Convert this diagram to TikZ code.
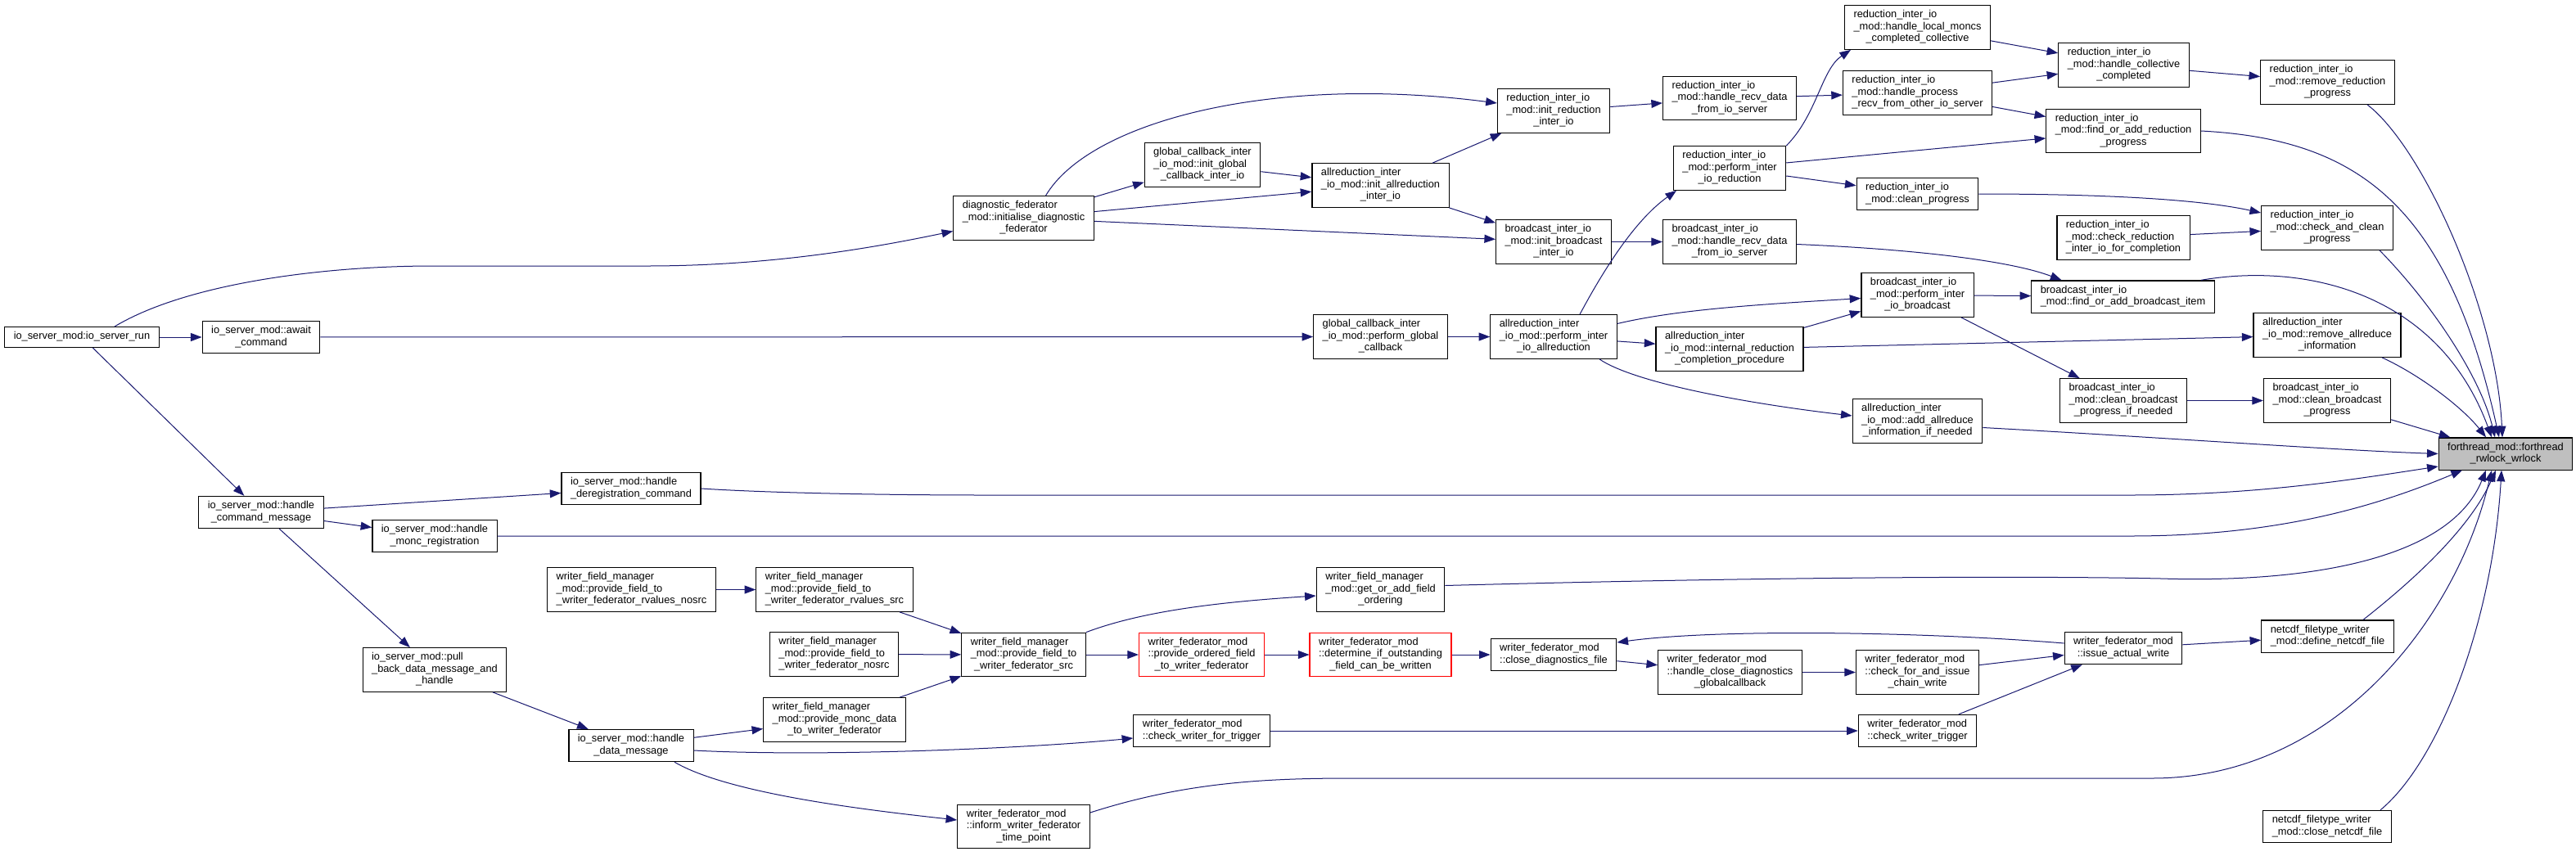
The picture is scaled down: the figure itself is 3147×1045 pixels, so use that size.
\documentclass[tikz,border=0pt]{standalone}
\usepackage{fontspec}
\setmainfont{Liberation Sans}
\usepackage{xcolor}
\usetikzlibrary{arrows.meta}
\definecolor{edgeblue}{RGB}{25,25,112}
\definecolor{selgray}{RGB}{191,191,191}
% label: all lines left aligned, last line centred
\newcommand{\lbl}[2]{\begin{tabular}{@{}l@{}}#1\\\multicolumn{1}{@{}c@{}}{#2}\end{tabular}}

\begin{document}
\begin{tikzpicture}[
  x=0.5pt, y=-0.5pt,
  >={Triangle[length=6.8pt,width=5pt]},
  func/.style={draw=black, line width=0.6pt, fill=white, inner xsep=5.5pt,
    inner ysep=2.6pt, font=\fontsize{6.4pt}{7.2pt}\selectfont},
  funcred/.style={func, draw=red},
  funcsel/.style={func, fill=selgray},
  arrow/.style={->, draw=edgeblue, line width=0.5pt},
]
\fill[white] (0,0) rectangle (3147,1045);
\useasboundingbox (0,0) rectangle (3147,1045);

% ===== io server =====
\node[func] (run) at (100,412) {\strut io\_server\_mod:io\_server\_run};
\node[func] (await) at (319,412) {\lbl{io\_server\_mod::await}{\_command}};
\node[func] (cmdmsg) at (319,626) {\lbl{io\_server\_mod::handle}{\_command\_message}};
\node[func] (moncreg) at (531,655) {\lbl{io\_server\_mod::handle}{\_monc\_registration}};
\node[func] (pullback) at (531,818.5)
  {\lbl{io\_server\_mod::pull\\\_back\_data\_message\_and}{\_handle}};
\node[func] (dereg) at (771,597) {\lbl{io\_server\_mod::handle}{\_deregistration\_command}};
\node[func] (datamsg) at (771,911) {\lbl{io\_server\_mod::handle}{\_data\_message}};

% ===== writer field manager =====
\node[func] (rvnosrc) at (771.5,720.5)
  {\lbl{writer\_field\_manager\\\_mod::provide\_field\_to}{\_writer\_federator\_rvalues\_nosrc}};
\node[func] (rvsrc) at (1019.5,720.5)
  {\lbl{writer\_field\_manager\\\_mod::provide\_field\_to}{\_writer\_federator\_rvalues\_src}};
\node[func] (provnosrc) at (1019,799.5)
  {\lbl{writer\_field\_manager\\\_mod::provide\_field\_to}{\_writer\_federator\_nosrc}};
\node[func] (moncdata) at (1019.5,879.5)
  {\lbl{writer\_field\_manager\\\_mod::provide\_monc\_data}{\_to\_writer\_federator}};
\node[func] (wfmsrc) at (1250.5,800)
  {\lbl{writer\_field\_manager\\\_mod::provide\_field\_to}{\_writer\_federator\_src}};
\node[func] (getorder) at (1686.5,720.5)
  {\lbl{writer\_field\_manager\\\_mod::get\_or\_add\_field}{\_ordering}};

% ===== writer federator =====
\node[funcred] (provordered) at (1468,800)
  {\lbl{writer\_federator\_mod\\::provide\_ordered\_field}{\_to\_writer\_federator}};
\node[funcred] (determine) at (1686.5,800)
  {\lbl{writer\_federator\_mod\\::determine\_if\_outstanding}{\_field\_can\_be\_written}};
\node[func] (closediag) at (1898,800) {\lbl{writer\_federator\_mod}{::close\_diagnostics\_file}};
\node[func] (closediagcb) at (2113.5,821.5)
  {\lbl{writer\_federator\_mod\\::handle\_close\_diagnostics}{\_globalcallback}};
\node[func] (chainwrite) at (2342.5,821.5)
  {\lbl{writer\_federator\_mod\\::check\_for\_and\_issue}{\_chain\_write}};
\node[func] (chkwrtrig) at (1468,893) {\lbl{writer\_federator\_mod}{::check\_writer\_for\_trigger}};
\node[func] (trigger) at (2342.5,893) {\lbl{writer\_federator\_mod}{::check\_writer\_trigger}};
\node[func] (inform) at (1250.5,1010)
  {\lbl{writer\_federator\_mod\\::inform\_writer\_federator}{\_time\_point}};
\node[func] (issue) at (2594,792) {\lbl{writer\_federator\_mod}{::issue\_actual\_write}};
\node[func] (define) at (2843.5,777.5) {\lbl{netcdf\_filetype\_writer}{\_mod::define\_netcdf\_file}};
\node[func] (closenc) at (2843,1010) {\lbl{netcdf\_filetype\_writer}{\_mod::close\_netcdf\_file}};

% ===== inter io =====
\node[func] (diag) at (1250.5,266.5)
  {\lbl{diagnostic\_federator\\\_mod::initialise\_diagnostic}{\_federator}};
\node[func] (gcinit) at (1469,201.5)
  {\lbl{global\_callback\_inter\\\_io\_mod::init\_global}{\_callback\_inter\_io}};
\node[func] (arinit) at (1686.5,226.5)
  {\lbl{allreduction\_inter\\\_io\_mod::init\_allreduction}{\_inter\_io}};
\node[func] (gcperf) at (1686.5,411.5)
  {\lbl{global\_callback\_inter\\\_io\_mod::perform\_global}{\_callback}};
\node[func] (redinit) at (1898,135.5)
  {\lbl{reduction\_inter\_io\\\_mod::init\_reduction}{\_inter\_io}};
\node[func] (bcinit) at (1898,295.5)
  {\lbl{broadcast\_inter\_io\\\_mod::init\_broadcast}{\_inter\_io}};
\node[func] (arperf) at (1898,411.5)
  {\lbl{allreduction\_inter\\\_io\_mod::perform\_inter}{\_io\_allreduction}};
\node[func] (redrecv) at (2113,120)
  {\lbl{reduction\_inter\_io\\\_mod::handle\_recv\_data}{\_from\_io\_server}};
\node[func] (redperf) at (2113,205.5)
  {\lbl{reduction\_inter\_io\\\_mod::perform\_inter}{\_io\_reduction}};
\node[func] (bcrecv) at (2113,295.5)
  {\lbl{broadcast\_inter\_io\\\_mod::handle\_recv\_data}{\_from\_io\_server}};
\node[func] (arintproc) at (2113,426.5)
  {\lbl{allreduction\_inter\\\_io\_mod::internal\_reduction}{\_completion\_procedure}};
\node[func] (redlocal) at (2342.5,33.5)
  {\lbl{reduction\_inter\_io\\\_mod::handle\_local\_moncs}{\_completed\_collective}};
\node[func] (redproc) at (2342.5,113.5)
  {\lbl{reduction\_inter\_io\\\_mod::handle\_process}{\_recv\_from\_other\_io\_server}};
\node[func] (redclean) at (2342.5,237) {\lbl{reduction\_inter\_io}{\_mod::clean\_progress}};
\node[func] (bcperf) at (2342.5,360.5)
  {\lbl{broadcast\_inter\_io\\\_mod::perform\_inter}{\_io\_broadcast}};
\node[func] (aradd) at (2342.5,514.5)
  {\lbl{allreduction\_inter\\\_io\_mod::add\_allreduce}{\_information\_if\_needed}};
\node[func] (redcoll) at (2594.5,79.5)
  {\lbl{reduction\_inter\_io\\\_mod::handle\_collective}{\_completed}};
\node[func] (redfind) at (2594,160)
  {\lbl{reduction\_inter\_io\\\_mod::find\_or\_add\_reduction}{\_progress}};
\node[func] (redcheckcomp) at (2594,290.5)
  {\lbl{reduction\_inter\_io\\\_mod::check\_reduction}{\_inter\_io\_for\_completion}};
\node[func] (bcfind) at (2593.5,362.5)
  {\lbl{broadcast\_inter\_io}{\_mod::find\_or\_add\_broadcast\_item}};
\node[func] (bccleanif) at (2594,489.5)
  {\lbl{broadcast\_inter\_io\\\_mod::clean\_broadcast}{\_progress\_if\_needed}};
\node[func] (redremove) at (2843.5,100.5)
  {\lbl{reduction\_inter\_io\\\_mod::remove\_reduction}{\_progress}};
\node[func] (redcheckclean) at (2843,278.5)
  {\lbl{reduction\_inter\_io\\\_mod::check\_and\_clean}{\_progress}};
\node[func] (arremove) at (2843,409.5)
  {\lbl{allreduction\_inter\\\_io\_mod::remove\_allreduce}{\_information}};
\node[func] (bcclean) at (2843,489.5)
  {\lbl{broadcast\_inter\_io\\\_mod::clean\_broadcast}{\_progress}};

% ===== target =====
\node[funcsel] (fwl) at (3061,554.5) {\lbl{forthread\_mod::forthread}{\_rwlock\_wrlock}};

% ===== edges: io server =====
\draw[arrow] (run) -- (await);
\draw[arrow] ([xshift=20pt]run.north) .. controls (230,345) and (400,325) .. (529,325)
  -- (790,325) .. controls (950,325) and (1080,300) .. ([yshift=-8pt]diag.west);
\draw[arrow] (run) -- (cmdmsg);
\draw[arrow] (await) -- (gcperf);
\draw[arrow] (cmdmsg) -- (dereg);
\draw[arrow] (cmdmsg) -- (moncreg);
\draw[arrow] (cmdmsg) -- (pullback);
\draw[arrow] (pullback) -- (datamsg);
\draw[arrow] (datamsg) -- (moncdata);
\draw[arrow] ([yshift=-3pt]datamsg.east) .. controls (1000,925) and (1250,915)
  .. ([yshift=-4.5pt]chkwrtrig.west);
\draw[arrow] ([xshift=26.5pt]datamsg.south) .. controls (890,970) and (1060,990)
  .. ([yshift=4pt]inform.west);

% ===== edges: writer field manager / federator =====
\draw[arrow] (rvnosrc) -- (rvsrc);
\draw[arrow] (rvsrc) -- (wfmsrc);
\draw[arrow] (provnosrc) -- (wfmsrc);
\draw[arrow] (moncdata) -- (wfmsrc);
\draw[arrow] (wfmsrc.north east) .. controls (1400,745) and (1500,735)
  .. ([yshift=-3.75pt]getorder.west);
\draw[arrow] (wfmsrc) -- (provordered);
\draw[arrow] (provordered) -- (determine);
\draw[arrow] (determine) -- (closediag);
\draw[arrow] (closediag) -- (closediagcb);
\draw[arrow] ([yshift=3pt]issue.west) .. controls (2350,772) and (2100,768)
  .. ([yshift=7.5pt]closediag.east);
\draw[arrow] (closediagcb) -- (chainwrite);
\draw[arrow] (chainwrite) -- (issue);
\draw[arrow] (trigger) -- (issue);
\draw[arrow] (chkwrtrig) -- (trigger);
\draw[arrow] (issue) -- (define);

% ===== edges: inter io =====
\draw[arrow] (diag) -- (gcinit);
\draw[arrow] (diag) -- (arinit);
\draw[arrow] (diag) -- (bcinit);
\draw[arrow] ([xshift=13.5pt]diag.north) .. controls (1330,150) and (1550,90)
  .. ([yshift=4.75pt]redinit.west);
\draw[arrow] (gcinit) -- (arinit);
\draw[arrow] (arinit) -- (redinit);
\draw[arrow] (arinit) -- (bcinit);
\draw[arrow] (redinit) -- (redrecv);
\draw[arrow] (bcinit) -- (bcrecv);
\draw[arrow] (gcperf) -- (arperf);
\draw[arrow] ([xshift=16pt]arperf.north) .. controls (1975,300) and (2010,260)
  .. ([xshift=-32.5pt]redperf.south);
\draw[arrow] ([yshift=8pt]arperf.east) .. controls (2050,378) and (2150,372)
  .. ([yshift=-2pt]bcperf.west);
\draw[arrow] (arperf) -- (arintproc);
\draw[arrow] ([xshift=28pt]arperf.south) .. controls (2000,470) and (2150,495)
  .. ([yshift=3.25pt]aradd.west);
\draw[arrow] (arintproc) -- (bcperf);
\draw[arrow] (arintproc) -- (arremove);
\draw[arrow] (bcperf) -- (bcfind);
\draw[arrow] (bcperf) -- (bccleanif);
\draw[arrow] (bccleanif) -- (bcclean);
\draw[arrow] (redrecv) -- (redproc);
\draw[arrow] (redperf.north east) .. controls (2220,140) and (2225,85)
  .. ([xshift=-40.75pt]redlocal.south);
\draw[arrow] (redperf) -- (redfind);
\draw[arrow] (redperf) -- (redclean);
\draw[arrow] (redlocal) -- (redcoll);
\draw[arrow] (redproc) -- (redcoll);
\draw[arrow] (redproc) -- (redfind);
\draw[arrow] (redcoll) -- (redremove);
\draw[arrow] (redclean.east) .. controls (2550,237) and (2680,242)
  .. ([yshift=9.25pt]redcheckclean.west);
\draw[arrow] (redcheckcomp) -- (redcheckclean);
\draw[arrow] ([yshift=-1.5pt]bcrecv.east) .. controls (2350,305) and (2460,320)
  .. ([xshift=-37.5pt]bcfind.north);

% ===== edges into forthread_rwlock_wrlock =====
\draw[arrow] (dereg.east) .. controls (950,603) and (1100,605) .. (1204,605)
  -- (2602,605) .. controls (2760,605) and (2880,585) .. ([yshift=-7.75pt]fwl.west);
\draw[arrow] (moncreg.east) -- (2602,655) .. controls (2780,655) and (2900,620)
  .. ([xshift=-26.5pt]fwl.south);
\draw[arrow] ([yshift=-4pt]aradd.east) .. controls (2650,535) and (2850,550) .. (fwl.west);
\draw[arrow] (bcclean) -- (fwl);
\draw[arrow] ([xshift=33.5pt]arremove.south) .. controls (2960,460) and (3010,500)
  .. ([xshift=-12pt]fwl.north);
\draw[arrow] ([xshift=47.75pt]bcfind.north) .. controls (2820,320) and (2980,360)
  .. ([xshift=-8.5pt]fwl.north);
\draw[arrow] ([xshift=32pt]redcheckclean.south) .. controls (2970,370) and (3030,460)
  .. ([xshift=-6.5pt]fwl.north);
\draw[arrow] (redfind.east) .. controls (2880,170) and (2990,250)
  .. ([xshift=-4pt]fwl.north);
\draw[arrow] ([xshift=24.25pt]redremove.south) .. controls (2960,180) and (3050,380)
  .. ([xshift=-2pt]fwl.north);
\draw[arrow] ([yshift=2.5pt]getorder.east) .. controls (2200,704) and (2500,704) .. (2640,707)
  .. controls (2800,712) and (2990,690) .. ([xshift=-12pt]fwl.south);
\draw[arrow] ([yshift=8.5pt]inform.east) .. controls (1450,955) and (1550,951) .. (1653,951)
  -- (2629,951) .. controls (2850,951) and (3000,760) .. ([xshift=-8.5pt]fwl.south);
\draw[arrow] ([xshift=21.75pt]define.north) .. controls (2960,700) and (3020,640)
  .. ([xshift=-6pt]fwl.south);
\draw[arrow] ([xshift=32.5pt]closenc.north) .. controls (2980,930) and (3045,760)
  .. ([xshift=-2.5pt]fwl.south);

\end{tikzpicture}
\end{document}
